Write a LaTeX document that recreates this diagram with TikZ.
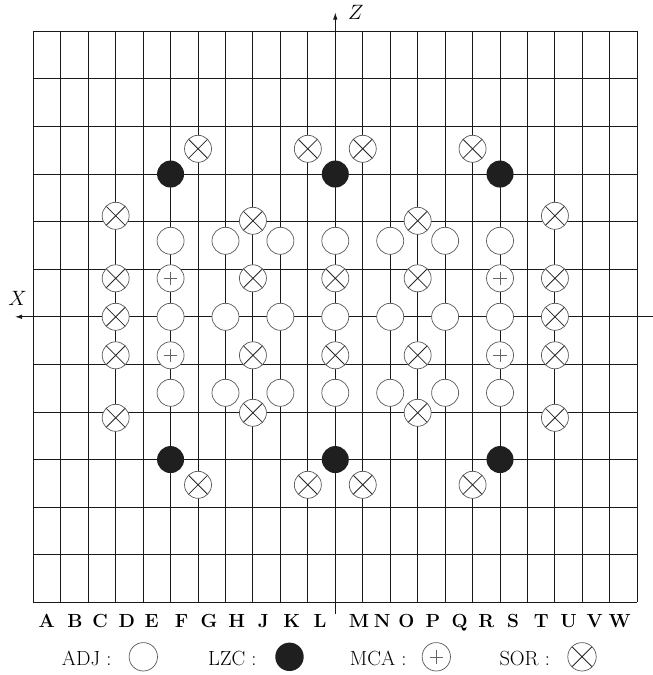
\documentclass[tikz,border=0pt]{standalone}
\usetikzlibrary{arrows.meta}
\begin{document}
\begin{tikzpicture}[x=1pt,y=-1pt,
 gridline/.style={line width=0.9pt,draw=black!90},
 axisline/.style={line width=0.9pt,draw=black!90,-{Latex[length=7pt,width=4.5pt]}},
 mk/.style={circle,minimum size=27pt,inner sep=0pt,outer sep=0pt},
 adj/.style={mk,draw=black!65,line width=0.7pt,fill=white},
 lzc/.style={mk,fill=black!88},
 mca/.style={adj,path picture={\draw[black!60,line width=0.6pt]
   ([xshift=-6.7pt]path picture bounding box.center) -- ([xshift=6.7pt]path picture bounding box.center)
   ([yshift=-6.7pt]path picture bounding box.center) -- ([yshift=6.7pt]path picture bounding box.center);}},
 sor/.style={adj,path picture={\draw[black!85,line width=0.8pt]
   (path picture bounding box.north west) -- (path picture bounding box.south east)
   (path picture bounding box.north east) -- (path picture bounding box.south west);}},
 collabel/.style={font=\fontsize{19}{22}\selectfont\bfseries,anchor=base,inner sep=0pt},
 legtext/.style={font=\fontsize{20.5}{24}\selectfont,anchor=base west,inner sep=0pt},
 axlabel/.style={font=\fontsize{21}{24}\selectfont,anchor=base west,inner sep=0pt}
]
\useasboundingbox (0,0) rectangle (653,675);
% grid
\foreach \i in {0,...,22} \draw[gridline] ({33.3+27.4545*\i},31.3) -- ++(0,571);
\foreach \j in {0,...,12} \draw[gridline] (33.3,{31.3+47.583*\j}) -- ++(604,0);
% axes
\coordinate (zbot) at (335.3,614);
\coordinate (ztop) at (335.3,12.5);
\draw[axisline] (zbot) -- (ztop);
\coordinate (xr) at (653,316.8);
\coordinate (xl) at (15,316.8);
\draw[axisline] (xr) -- (xl);
\node[axlabel] (xlab) at (8.3,305) {$X$};
\node[axlabel] (zlab) at (348,19.3) {$Z$};
% markers
\foreach \i in {5,11,17} \foreach[count=\k] \d in {-142.75,142.75}
  \node[lzc] (lzc-\i-\k) at ({33.3+27.4545*\i},{316.8+\d}) {};
\foreach \i in {5,7,9,11,13,15,17} \foreach[count=\k] \d in {-76,0,76}
  \node[adj] (adj-\i-\k) at ({33.3+27.4545*\i},{316.8+\d}) {};
\foreach \i in {5,17} \foreach[count=\k] \d in {-38.5,38.5}
  \node[mca] (mca-\i-\k) at ({33.3+27.4545*\i},{316.8+\d}) {};
\foreach[count=\k] \d in {-38.5,38.5}
  \node[sor] (sor-11-\k) at ({33.3+27.4545*11},{316.8+\d}) {};
\foreach \i in {3,19} \foreach[count=\k] \d in {-101,-38.5,0,38.5,101}
  \node[sor] (sor-\i-\k) at ({33.3+27.4545*\i},{316.8+\d}) {};
\foreach \i in {8,14} \foreach[count=\k] \d in {-96,-38.5,38.5,96}
  \node[sor] (sor-\i-\k) at ({33.3+27.4545*\i},{316.8+\d}) {};
\foreach \i in {6,10,12,16} \foreach[count=\k] \d in {-168,168}
  \node[sor] (sor-\i-\k) at ({33.3+27.4545*\i},{316.8+\d}) {};
% column labels
\foreach \l/\x in {A/46.7,B/75,C/100,D/126.7,E/151.7,F/181.7,G/209,H/236.7,J/263.3,K/291.7,L/320,M/359,N/382.3,O/406.3,P/433,Q/459.7,R/486.3,S/513,T/541.3,U/568.7,V/594.7,W/619.7}
  \node[collabel] (col-\l) at (\x,627.5) {\l};
% legend
\node[legtext] (adjtxt) at (61.7,665) {ADJ :};
\node[adj,minimum size=28.4pt] (adjleg) at (143.3,656.8) {};
\node[legtext] (lzctxt) at (208,665) {LZC :};
\node[lzc,minimum size=28.4pt] (lzcleg) at (289.5,656.8) {};
\node[legtext] (mcatxt) at (349.7,665) {MCA :};
\node[mca,minimum size=28.4pt] (mcaleg) at (436.3,656.8) {};
\node[legtext] (sortxt) at (499.3,665) {SOR :};
\node[sor,minimum size=28.4pt] (sorleg) at (582,656.8) {};
\end{tikzpicture}
\end{document}
